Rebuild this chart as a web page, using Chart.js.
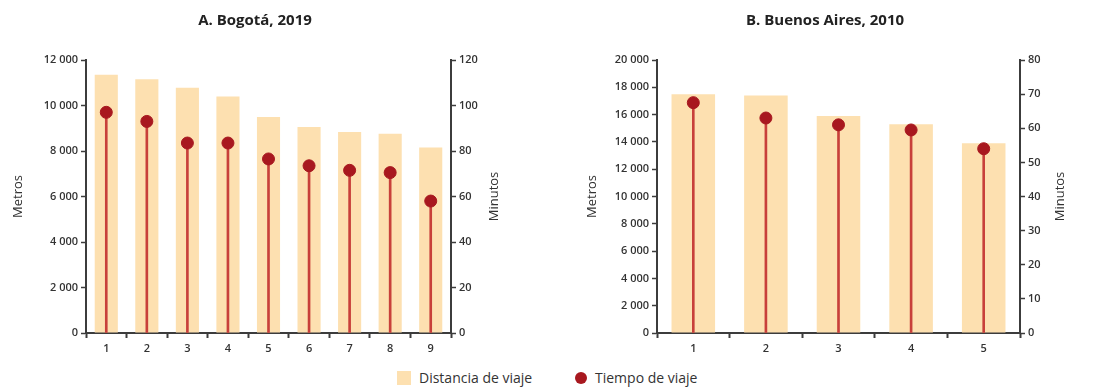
<!DOCTYPE html>
<html>
<head>
<meta charset="utf-8">
<script src="https://cdn.jsdelivr.net/npm/chart.js@4"></script>
<style>
    body { margin: 0; background: #fff; width: 1104px; height: 390px; position: relative; overflow: hidden; font-family: "Open Sans", sans-serif; }
    #chartA { position: absolute; left: 0; top: 0; }
    #chartB { position: absolute; left: 552px; top: 0; }
    .legend { position: absolute; top: 368px; font-size: 14px; color: #333; display: flex; align-items: center; }
    .sq { width: 14px; height: 14px; background: #fde0b0; margin-right: 8px; }
    .dot { width: 12px; height: 12px; border-radius: 50%; background: #a8181f; margin-right: 8px; }
</style>
</head>
<body>
<canvas id="chartA" width="552" height="362"></canvas>
<canvas id="chartB" width="552" height="362"></canvas>
<div class="legend" style="left:397px"><div class="sq"></div>Distancia de viaje</div>
<div class="legend" style="left:575px"><div class="dot"></div>Tiempo de viaje</div>
<script>
// -------- DATA --------
const bogotaLabels = ["1", "2", "3", "4", "5", "6", "7", "8", "9"];
const bogotaDistancia = [11350, 11150, 10780, 10400, 9500, 9050, 8830, 8760, 8150];
const bogotaTiempo = [97, 93, 83.5, 83.5, 76.5, 73.5, 71.5, 70.5, 58];

const baLabels = ["1", "2", "3", "4", "5"];
const baDistancia = [17500, 17400, 15900, 15300, 13900];
const baTiempo = [67.5, 63, 61, 59.5, 54];

const bogotaMetrosMax = 12000, bogotaMetrosStep = 2000;
const bogotaMinutosMax = 120, bogotaMinutosStep = 20;
const baMetrosMax = 20000, baMetrosStep = 2000;
const baMinutosMax = 80, baMinutosStep = 10;

const barColor = "#fde0b0";
const stemColor = "#c8403a";
const dotColor = "#a8181f";
const axisColor = "#3c3c3c";
const tickFont = { family: "Open Sans", size: 11, weight: "600" };

function fmt(v) {
    return String(v).replace(/\B(?=(\d{3})+(?!\d))/g, " ");
}

// right axis title reads bottom-to-top like the left one
const minutosTitle = {
    id: "minutosTitle",
    afterDraw(chart, args, opts) {
        const s = chart.scales.y1;
        const ctx = chart.ctx;
        ctx.save();
        ctx.translate(s.right - opts.offset, (s.top + s.bottom) / 2);
        ctx.rotate(-Math.PI / 2);
        ctx.fillStyle = "#333";
        ctx.font = "13px 'Open Sans'";
        ctx.textAlign = "center";
        ctx.textBaseline = "middle";
        ctx.fillText("Minutos", 0, 0);
        ctx.restore();
    }
};

function makeChart(id, title, labels, distancia, tiempo, cfg) {
    return new Chart(document.getElementById(id), {
        type: "bar",
        data: {
            labels,
            datasets: [
                {
                    type: "line",
                    label: "Tiempo de viaje",
                    data: tiempo,
                    yAxisID: "y1",
                    showLine: false,
                    pointRadius: 6,
                    pointBackgroundColor: dotColor,
                    pointBorderColor: dotColor,
                    order: 0
                },
                {
                    label: "stem",
                    data: tiempo,
                    yAxisID: "y1",
                    backgroundColor: stemColor,
                    barThickness: 2,
                    grouped: false,
                    order: 1
                },
                {
                    label: "Distancia de viaje",
                    data: distancia,
                    yAxisID: "y",
                    backgroundColor: barColor,
                    barPercentage: cfg.barPct,
                    categoryPercentage: 1,
                    grouped: false,
                    order: 2
                }
            ]
        },
        plugins: [minutosTitle],
        options: {
            responsive: false,
            animation: false,
            devicePixelRatio: 1,
            layout: { padding: { left: cfg.padLeft, right: cfg.padRight, top: 0, bottom: 0 } },
            plugins: {
                legend: { display: false },
                tooltip: { enabled: false },
                minutosTitle: { offset: cfg.minOffset },
                title: {
                    display: true,
                    text: title,
                    color: "#222",
                    font: { family: "Open Sans", size: 15, weight: "bold" },
                    padding: { top: 12, bottom: 30 },
                    align: "center"
                }
            },
            scales: {
                x: {
                    grid: { display: true, drawOnChartArea: false, offset: true, tickLength: 5, color: axisColor, tickWidth: 2 },
                    border: { color: axisColor, width: 2 },
                    ticks: { color: "#333", font: tickFont, padding: 4 },
                    afterFit: s => { s.height = 29; }
                },
                y: {
                    position: "left",
                    min: 0,
                    max: cfg.metrosMax,
                    grid: { drawOnChartArea: false, tickLength: 5, color: axisColor, tickWidth: 1.5 },
                    border: { color: axisColor, width: 2 },
                    ticks: { stepSize: cfg.metrosStep, color: "#333", font: tickFont, padding: 3, callback: v => fmt(v) },
                    title: { display: true, text: "Metros", color: "#333", font: { family: "Open Sans", size: 13 } },
                    afterFit: s => { s.width = cfg.yWidth; }
                },
                y1: {
                    position: "right",
                    min: 0,
                    max: cfg.minMax,
                    grid: { drawOnChartArea: false, tickLength: 5, color: axisColor, tickWidth: 1.5 },
                    border: { color: axisColor, width: 2 },
                    ticks: { stepSize: cfg.minStep, color: "#333", font: tickFont, padding: 3 },
                    afterFit: s => { s.width = cfg.y1Width; }
                }
            }
        }
    });
}

makeChart("chartA", "A. Bogotá, 2019", bogotaLabels, bogotaDistancia, bogotaTiempo, {
    barPct: 0.57, padLeft: 6, padRight: 48, yWidth: 80, y1Width: 53, minOffset: 10,
    metrosMax: bogotaMetrosMax, metrosStep: bogotaMetrosStep,
    minMax: bogotaMinutosMax, minStep: bogotaMinutosStep
});

makeChart("chartB", "B. Buenos Aires, 2010", baLabels, baDistancia, baTiempo, {
    barPct: 0.6, padLeft: 28, padRight: 34, yWidth: 77, y1Width: 50, minOffset: 10,
    metrosMax: baMetrosMax, metrosStep: baMetrosStep,
    minMax: baMinutosMax, minStep: baMinutosStep
});
</script>
</body>
</html>
